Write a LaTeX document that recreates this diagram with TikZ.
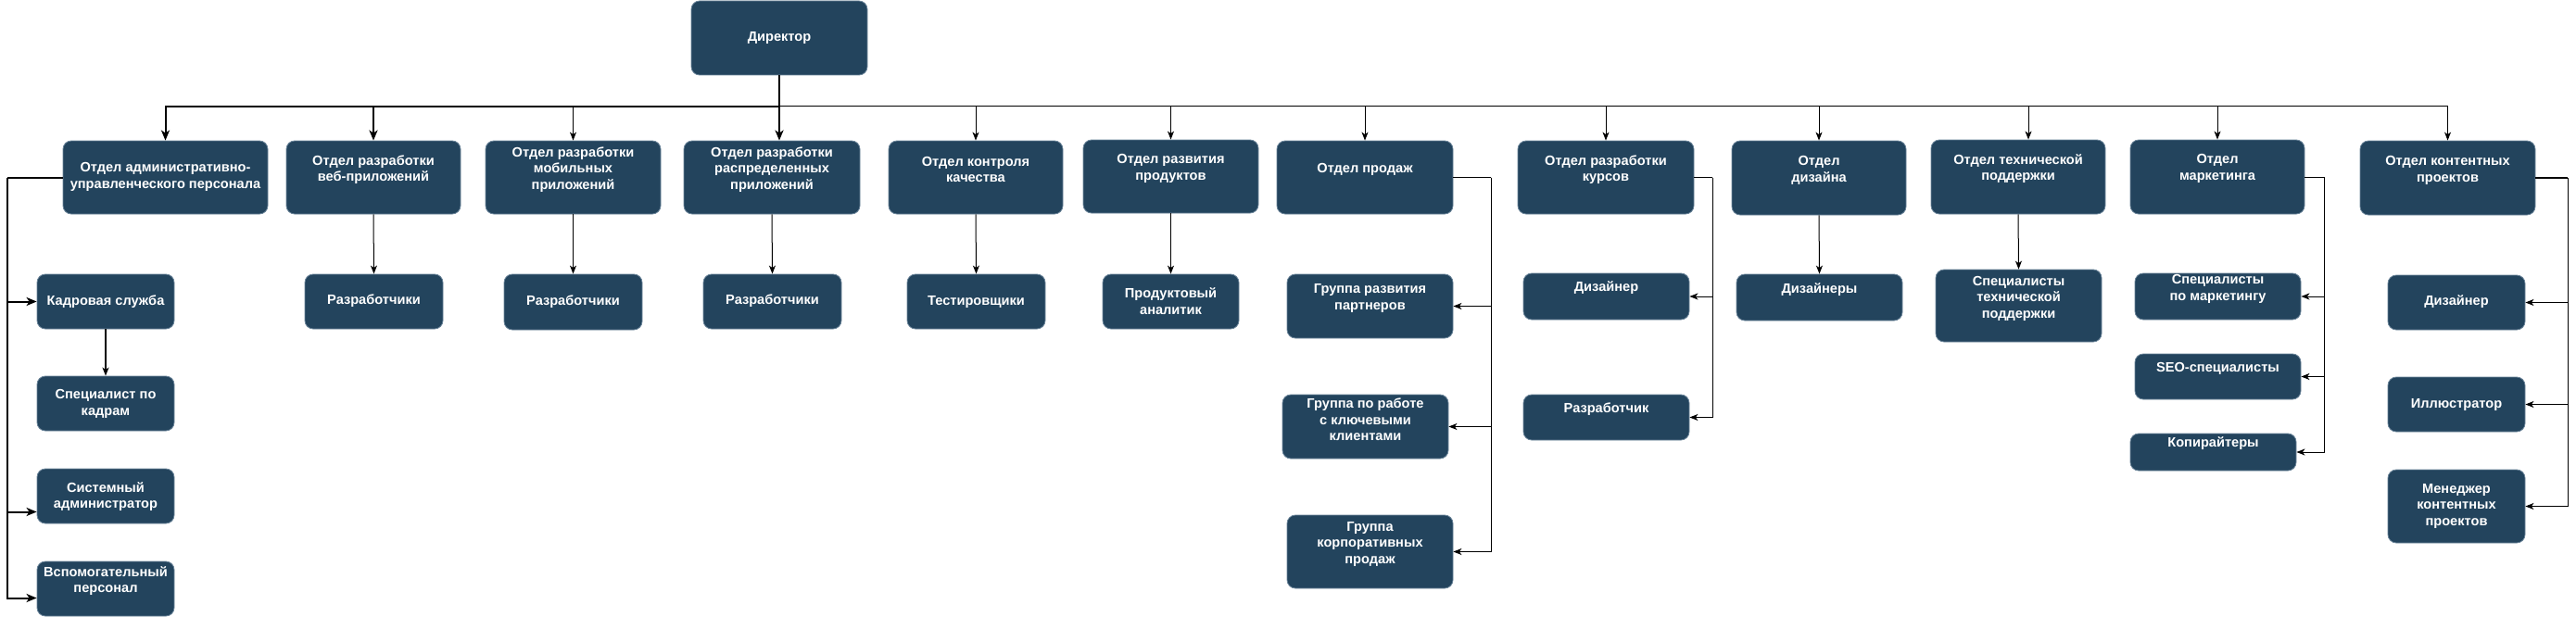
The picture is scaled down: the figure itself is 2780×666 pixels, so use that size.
\documentclass[tikz,border=0pt]{standalone}
\usepackage{fontspec}
\setmainfont{Liberation Sans}
\usetikzlibrary{fit,arrows.meta}
\definecolor{boxfill}{HTML}{23445D}
\definecolor{boxedge}{HTML}{6A8499}
\tikzset{
  obox/.style={draw=boxedge, fill=boxfill, rounded corners=9pt, line width=0.8pt, inner sep=0pt},
  otxt/.style={text=white, font=\bfseries\fontsize{14.6}{17.5}\selectfont, align=center, inner sep=0pt},
  thk/.style={line width=2pt, -{Stealth[length=11pt,width=9pt,inset=3pt]}},
  thn/.style={line width=1pt, -{Stealth[length=9pt,width=7pt,inset=2.5pt]}},
  thkl/.style={line width=2pt},
  thnl/.style={line width=1pt},
  mdl/.style={line width=1.5pt},
  mda/.style={line width=1.5pt, -{Stealth[length=9pt,width=7pt,inset=2.5pt]}},
}
\newcommand\obx[7]{%
  \node[obox, fit={(#2,#3) (#4,#5)}] (#1) {};
  \node[otxt] (#1t) at ({(#2+#4)/2},#6) {#7};}
\begin{document}
\begin{tikzpicture}[x=1pt,y=-1pt]
\useasboundingbox (0,0) rectangle (2780,666);
% level 0
\obx{dir}{746}{1}{936}{81}{41}{Директор}
% level 1
\obx{a1}{68}{152}{289}{231}{191}{Отдел административно-\\управленческого персонала}
\obx{a2}{309}{152}{497}{231}{183}{Отдел разработки\\веб-приложений}
\obx{a3}{524}{152}{713}{231}{183}{Отдел разработки\\мобильных\\приложений}
\obx{a4}{738}{152}{928}{231}{183}{Отдел разработки\\распределенных\\приложений}
\obx{a5}{959}{152}{1147}{231}{183}{Отдел контроля\\качества}
\obx{a6}{1169}{151}{1358}{230}{182}{Отдел развития\\продуктов}
\obx{a7}{1378}{152}{1568}{231}{183}{Отдел продаж}
\obx{a8}{1638}{152}{1828}{231}{183}{Отдел разработки\\курсов}
\obx{a9}{1869}{152}{2057}{232}{184}{Отдел\\дизайна}
\obx{a10}{2084}{151}{2272}{231}{182}{Отдел технической\\поддержки}
\obx{a11}{2299}{151}{2487}{231}{182}{Отдел\\маркетинга}
\obx{a12}{2547}{152}{2736}{232}{184}{Отдел контентных\\проектов}
% level 2
\obx{hr}{40}{296}{188}{355}{326}{Кадровая служба}
\obx{sk}{40}{406}{188}{465}{436}{Специалист по\\кадрам}
\obx{sa}{40}{506}{188}{565}{536}{Системный\\администратор}
\obx{vp}{40}{606}{188}{665}{627}{Вспомогательный\\персонал}
\obx{r2}{329}{296}{478}{355}{325}{Разработчики}
\obx{r3}{544}{296}{693}{356}{326}{Разработчики}
\obx{r4}{759}{296}{908}{355}{325}{Разработчики}
\obx{ts}{979}{296}{1128}{355}{326}{Тестировщики}
\obx{pa}{1190}{296}{1337}{355}{325}{Продуктовый\\аналитик}
\obx{g1}{1389}{296}{1568}{365}{322}{Группа развития\\партнеров}
\obx{g2}{1384}{426}{1563}{495}{453}{Группа по работе\\с ключевыми\\клиентами}
\obx{g3}{1389}{556}{1568}{635}{587}{Группа\\корпоративных\\продаж}
\obx{cd}{1644}{295}{1823}{345}{311}{Дизайнер}
\obx{cr}{1644}{426}{1823}{475}{442}{Разработчик}
\obx{dz}{1874}{296}{2053}{346}{313}{Дизайнеры}
\obx{tp}{2089}{291}{2268}{369}{322}{Специалисты\\технической\\поддержки}
\obx{m1}{2304}{295}{2483}{345}{312}{Специалисты\\по маркетингу}
\obx{m2}{2304}{382}{2483}{431}{398}{SEO-специалисты}
\obx{m3}{2299}{468}{2478}{508}{479}{Копирайтеры}
\obx{k1}{2577}{297}{2725}{356}{326}{Дизайнер}
\obx{k2}{2577}{407}{2725}{466}{437}{Иллюстратор}
\obx{k3}{2577}{507}{2725}{586}{546}{Менеджер\\контентных\\проектов}
% director bus
\coordinate (bus) at (841,115);
\draw[thkl] (dir.south) -- (bus);
\draw[thn] (bus) -| (a3.north);
\draw[thn] (bus) -| (a5.north);
\draw[thn] (bus) -| (a6.north);
\draw[thn] (bus) -| (a7.north);
\draw[thn] (bus) -| (a8.north);
\draw[thn] (bus) -| (a9.north);
\draw[thn] (bus) -| ([xshift=11pt]a10.north);
\draw[thn] (bus) -| (a11.north);
\draw[thn] (bus) -| (a12.north);
\draw[thk] (bus) -| (a1.north);
\draw[thk] (bus) -| (a2.north);
\draw[thk] (bus) -- (bus |- a4.north);
% vertical children
\draw[thn] (a2.south) -- (r2.north);
\draw[thn] (a3.south) -- (r3.north);
\draw[thn] (a4.south) -- (r4.north);
\draw[thn] (a5.south) -- (ts.north);
\draw[thn] (a6.south) -- (pa.north);
\draw[thn] (a9.south) -- (dz.north);
\draw[thn] (a10.south) -- (tp.north);
\draw[mda] (hr.south) -- (sk.north);
% admin
\coordinate (al) at (8,191.5);
\draw[thkl] (a1.west) -- (al);
\draw[thk] (al) |- (hr.west);
\draw[thk] (al) |- ([yshift=-17pt]sa.west);
\draw[thk] (al) |- ([yshift=-10pt]vp.west);
% sales
\coordinate (sl) at (1609,191.5);
\draw[thnl] (a7.east) -- (sl);
\draw[thn] (sl) |- (g1.east);
\draw[thn] (sl) |- (g2.east);
\draw[thn] (sl) |- (g3.east);
% courses
\coordinate (cl) at (1848,191.5);
\draw[thnl] (a8.east) -- (cl);
\draw[thn] (cl) |- (cd.east);
\draw[thn] (cl) |- (cr.east);
% marketing
\coordinate (ml) at (2508,191);
\draw[thnl] (a11.east) -- (ml);
\draw[thn] (ml) |- (m1.east);
\draw[thn] (ml) |- (m2.east);
\draw[thn] (ml) |- (m3.east);
% content
\coordinate (kl) at (2771,192);
\draw[mdl] (a12.east) -- (kl);
\draw[thn] (kl) |- (k1.east);
\draw[thn] (kl) |- (k2.east);
\draw[thn] (kl) |- (k3.east);
\end{tikzpicture}
\end{document}
